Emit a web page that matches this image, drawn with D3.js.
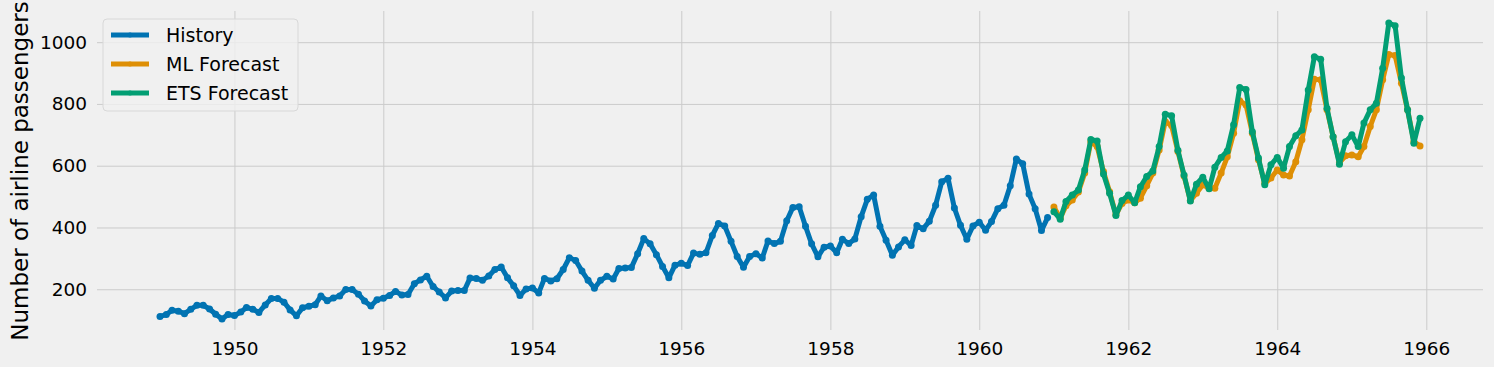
<!doctype html>
<html>
<head>
<style>
  body { margin: 0; background: #f0f0f0; }
  svg { display: block; font-family: "DejaVu Sans", sans-serif; }
  .grid line { stroke: #cbcbcb; stroke-width: 1; }
</style>
<script src="https://d3js.org/d3.v7.min.js"></script>
</head>
<body>
<svg width="1494" height="367"></svg>
<script>
// monthly airline passengers 1949-1960
var historyValues = [
  112,118,132,129,121,135,148,148,136,119,104,118,
  115,126,141,135,125,149,170,170,158,133,114,140,
  145,150,178,163,172,178,199,199,184,162,146,166,
  171,180,193,181,183,218,230,242,209,191,172,194,
  196,196,236,235,229,243,264,272,237,211,180,201,
  204,188,235,227,234,264,302,293,259,229,203,229,
  242,233,267,269,270,315,364,347,312,274,237,278,
  284,277,317,313,318,374,413,405,355,306,271,306,
  315,301,356,348,355,422,465,467,404,347,305,336,
  340,318,362,348,363,435,491,505,404,359,310,337,
  360,342,406,396,420,472,548,559,463,407,362,405,
  417,391,419,461,472,535,622,606,508,461,390,432
];
// forecasts 1961-1965
var mlForecast = [
  466,430,470,489,515,576,678,662,581,516,441,478,
  489,480,495,535,576,651,743,730,646,567,487,511,
  538,527,527,576,629,705,810,797,705,619,543,560,
  586,570,567,613,684,781,880,878,781,694,610,632,
  635,629,662,727,781,878,960,957,867,781,678,664
];
var etsForecast = [
  451,427,484,505,521,586,685,680,573,511,439,487,
  505,480,532,565,583,662,767,762,650,570,486,540,
  563,525,595,627,648,733,853,847,710,625,538,603,
  627,592,662,697,716,845,953,945,786,694,605,678,
  700,662,738,781,802,916,1062,1053,884,781,673,754
];
var yTicks = [200, 400, 600, 800, 1000];
var yDomain = [68, 1101];

function monthly(values, startYear) {
  return values.map(function(v, i) {
    return { date: new Date(startYear + Math.floor(i / 12), i % 12, 1), value: v };
  });
}
var series = [
  { name: "History", color: "#0173b2", data: monthly(historyValues, 1949) },
  { name: "ML Forecast", color: "#de8f05", data: monthly(mlForecast, 1961) },
  { name: "ETS Forecast", color: "#029e73", data: monthly(etsForecast, 1961) }
];

var svg = d3.select("svg"),
    pLeft = 97, pRight = 1483, pTop = 11, pBottom = 330;

// x domain: data extent with 5% padding like matplotlib
var allDates = series.flatMap(function(s) { return s.data.map(function(d) { return +d.date; }); });
var x0 = d3.min(allDates), x1 = d3.max(allDates), pad = (x1 - x0) * 0.05;
var x = d3.scaleTime().domain([new Date(x0 - pad), new Date(x1 + pad)]).range([pLeft, pRight]);
var y = d3.scaleLinear().domain(yDomain).range([pBottom, pTop]);

var xTicks = d3.range(1950, 1967, 2).map(function(yr) { return new Date(yr, 0, 1); });

// grid + ticks
var xg = svg.append("g").attr("class", "grid")
  .attr("transform", "translate(0," + pBottom + ")")
  .call(d3.axisBottom(x).tickValues(xTicks).tickSize(-(pBottom - pTop)).tickFormat(d3.timeFormat("%Y")).tickPadding(12));
xg.select(".domain").remove();

var yg = svg.append("g").attr("class", "grid")
  .attr("transform", "translate(" + pLeft + ",0)")
  .call(d3.axisLeft(y).tickValues(yTicks).tickSize(-(pRight - pLeft)).tickFormat(d3.format("d")).tickPadding(10));
yg.select(".domain").remove();

svg.selectAll(".grid")
  .attr("font-family", "DejaVu Sans")
  .attr("font-size", 18.5);
svg.selectAll(".grid text").attr("fill", "#000");

// lines
var line = d3.line().x(function(d) { return x(d.date); }).y(function(d) { return y(d.value); });

series.forEach(function(s) {
  var g = svg.append("g");
  g.append("path")
    .datum(s.data)
    .attr("fill", "none")
    .attr("stroke", s.color)
    .attr("stroke-width", 5)
    .attr("stroke-linejoin", "round")
    .attr("d", line);
  g.selectAll("circle")
    .data(s.data)
    .enter().append("circle")
    .attr("cx", function(d) { return x(d.date); })
    .attr("cy", function(d) { return y(d.value); })
    .attr("r", 3.5)
    .attr("fill", s.color);
});

// y label
svg.append("text")
  .attr("transform", "translate(28,171) rotate(-90)")
  .attr("text-anchor", "middle")
  .attr("font-size", "23px")
  .attr("fill", "#000")
  .text("Number of airline passengers");

// legend
var lg = svg.append("g").attr("transform", "translate(103,19)");
lg.append("rect")
  .attr("width", 195).attr("height", 92).attr("rx", 4)
  .attr("fill", "#f0f0f0").attr("fill-opacity", 0.8)
  .attr("stroke", "#d8d8d8");
series.forEach(function(s, i) {
  var yy = 16 + i * 29;
  lg.append("line")
    .attr("x1", 8).attr("x2", 46).attr("y1", yy).attr("y2", yy)
    .attr("stroke", s.color).attr("stroke-width", 5);
  lg.append("circle").attr("cx", 27).attr("cy", yy).attr("r", 2.5).attr("fill", s.color);
  lg.append("text")
    .attr("x", 63).attr("y", yy).attr("dy", "0.35em")
    .attr("font-size", "19px").attr("fill", "#000")
    .text(s.name);
});
</script>
</body>
</html>
